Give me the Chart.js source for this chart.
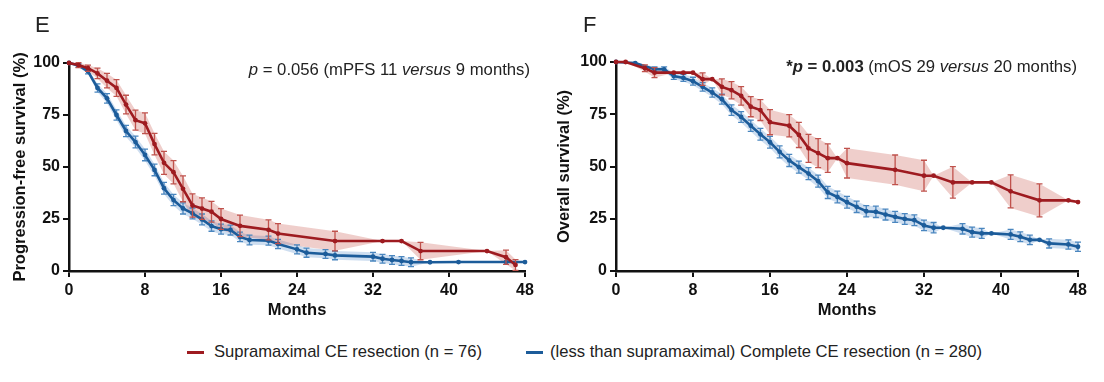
<html>
<head>
<script src="https://cdn.jsdelivr.net/npm/chart.js"></script>
<title>Kaplan-Meier PFS / OS</title>
<style>
  body { margin: 0; background: #fff; font-family: 'Liberation Sans', Arial, sans-serif; color: #222; }
  .panel { position: absolute; top: 0; height: 330px; }
  .letter { position: absolute; top: 12px; font-size: 22px; }
  .note { position: absolute; font-size: 16.7px; white-space: nowrap; }
  .dash { position: absolute; top: 351px; width: 17px; height: 3px; }
  .key { position: absolute; top: 342px; font-size: 16.6px; white-space: nowrap; }
</style>
</head>
<body>

<div class="panel" style="left:0; width:545px;"><canvas id="chart-e"></canvas></div>
<div class="panel" style="left:547px; width:557px;"><canvas id="chart-f"></canvas></div>

<div class="letter" style="left:35px;">E</div>
<div class="letter" style="left:583px;">F</div>

<div class="note" style="right:574px; top:60px;"><i>p</i> = 0.056 (mPFS 11 <i>versus</i> 9 months)</div>
<div class="note" style="right:27px; top:57px;"><b>*<i>p</i> = 0.003</b> (mOS 29 <i>versus</i> 20 months)</div>

<div class="dash" style="left:187px; background:#9e1b20;"></div>
<div class="key" style="left:214px;">Supramaximal CE resection (n = 76)</div>
<div class="dash" style="left:526px; background:#1c5c9a;"></div>
<div class="key" style="left:550px;">(less than supramaximal) Complete CE resection (n = 280)</div>

<script>
  // Panel E - progression-free survival
  const pfsSupraMonths = [0,1,2,3,4,5,6,7,8,9,10,11,12,13,14,15,16,18,21,22,28,33,35,37,44,46,47];
  const pfsSupraSurv   = [100,99,97.5,95,91.5,88,80,72.5,71,61,52,47.5,39.5,31.5,30,28.5,25,21.7,19.8,18,14.4,14.4,14.4,9.6,9.6,6.6,2.9];
  const pfsSupraErr    = [0,1.2,1.5,2.5,3.5,4,4.5,4.8,5,5.2,5.5,5.6,6.2,5.6,5.2,5,5,5.2,4.8,4.8,4.7,0,0,4.2,0,3.4,2.6];

  const pfsCompMonths = [0,1,2,3,4,5,6,7,8,9,10,11,12,13,14,15,16,17,18,19,21,22,24,25,27,28,32,33,34,35,36,38,41,46,48];
  const pfsCompSurv   = [100,98.8,96,88,83,75,67.3,62,55.8,48.6,39.8,34.1,30.1,27.7,24.8,21.6,20.1,19.7,16.4,14.9,14.6,13,10.4,8.8,8.2,7.5,6.9,5.9,5.3,4.8,4.2,4.2,4.3,4.3,4.3];
  const pfsCompErr    = [0,0.8,1.2,2,2.3,2.5,2.7,2.8,2.8,2.8,2.8,2.7,2.7,2.6,2.6,2.5,2.4,2.4,2.3,2.3,2.2,2.2,2.2,2.2,2.1,2.1,2.1,2.1,2.1,2.1,2.1,0,0,0,0];

  // Panel F - overall survival
  const osSupraMonths = [0,1,3,4,6,7,8,9,10,11,12,13,14,15,16,18,19,20,21,22,23,24,29,32,33,35,37,39,41,44,47,48];
  const osSupraSurv   = [100,100,97,94.9,94.9,94.9,94.9,91.8,91.8,88.1,86.5,83.8,78.6,77,71.2,69.5,65.1,58.7,56.4,54,54,51.6,48.4,45.6,45.6,42.4,42.4,42.4,38.1,33.8,33.8,33];
  const osSupraErr    = [0,0,1.6,2.4,0,0,0,3,0,3.8,4.1,4.4,4.8,5,6,5.3,6,6.7,6.9,6.8,0,7.1,7.1,7.4,0,7.5,0,0,7.9,7.9,0,0];

  const osCompMonths = [0,2,4,5,6,7,8,9,10,11,12,13,14,15,16,17,18,19,20,21,22,23,24,25,26,27,28,29,30,31,32,33,34,36,37,38,39,41,42,43,44,45,47,48];
  const osCompSurv   = [100,99.5,96.5,96.5,93.3,92.4,90.8,88.1,85.4,82.2,77,73.7,69.5,65.4,61.6,57,52.9,49.7,46.6,43,37.6,35.4,32.9,30.7,28.6,28.3,27,25.9,24.9,24.3,21.8,20.7,20.7,20.2,18.6,18,18,17.5,16.4,14.9,14.9,13.2,12.7,11.6];
  const osCompErr    = [0,0,1.2,1.2,1.6,1.7,1.9,2,2.2,2.4,2.5,2.6,2.7,2.8,2.8,2.9,2.9,2.9,2.9,2.9,2.9,2.8,2.8,2.7,2.7,2.7,2.6,2.6,2.6,2.6,2.5,2.5,0,2.5,2.4,2.4,0,2.4,2.3,2.3,0,2.2,2.2,2.2];

  const RED = '#9e1b20', RED_BAR = '#c0524c', RED_BAND = 'rgba(196,80,70,0.28)';
  const BLUE = '#1c5c9a', BLUE_BAR = '#4a86bf', BLUE_BAND = 'rgba(80,135,200,0.28)';

  function pts(m, v, e, sign) {
    return m.map((x, i) => ({ x: x, y: v[i] + sign * (e ? e[i] : 0) }));
  }

  // draws each curve's error bars just before its line, so they sit over the band
  const errorBars = {
    id: 'errorBars',
    beforeDatasetDraw(chart, args) {
      const ds = chart.data.datasets[args.index];
      if (!ds.errs) return;
      const ctx = chart.ctx, xs = chart.scales.x, ys = chart.scales.y;
      ctx.save();
      ctx.strokeStyle = ds.errColor;
      ctx.lineWidth = 1.3;
      ds.data.forEach((p, i) => {
        const e = ds.errs[i];
        if (!e) return;
        const px = xs.getPixelForValue(p.x);
        const t = ys.getPixelForValue(p.y + e), b = ys.getPixelForValue(p.y - e);
        ctx.beginPath();
        ctx.moveTo(px, t); ctx.lineTo(px, b);
        ctx.moveTo(px - 3, t); ctx.lineTo(px + 3, t);
        ctx.moveTo(px - 3, b); ctx.lineTo(px + 3, b);
        ctx.stroke();
      });
      ctx.restore();
    }
  };

  function lineSet(m, v, e, color, barColor) {
    return {
      data: pts(m, v, null, 0), errs: e, errColor: barColor,
      borderColor: color, backgroundColor: color, borderWidth: 2.6,
      pointRadius: 2.4, pointBorderWidth: 0, tension: 0, fill: false, clip: false
    };
  }
  function bandSet(m, v, e, color, upper) {
    return {
      data: pts(m, v, e, upper ? 1 : -1),
      borderWidth: 0, borderColor: 'rgba(0,0,0,0)', pointRadius: 0,
      backgroundColor: color, fill: upper ? '+1' : false, tension: 0
    };
  }

  function makeChart(id, supra, comp, yTitle, padTop, padRight, yTitlePad) {
    const font = { family: "'Liberation Sans', Arial, sans-serif", size: 16, weight: 'bold' };
    const titleFont = { family: "'Liberation Sans', Arial, sans-serif", size: 16.5, weight: 'bold' };
    return new Chart(document.getElementById(id), {
      type: 'line',
      data: {
        datasets: [
          lineSet(supra[0], supra[1], supra[2], RED, RED_BAR),
          lineSet(comp[0], comp[1], comp[2], BLUE, BLUE_BAR),
          bandSet(supra[0], supra[1], supra[2], RED_BAND, true),
          bandSet(supra[0], supra[1], supra[2], RED_BAND, false),
          bandSet(comp[0], comp[1], comp[2], BLUE_BAND, true),
          bandSet(comp[0], comp[1], comp[2], BLUE_BAND, false)
        ]
      },
      options: {
        responsive: true,
        maintainAspectRatio: false,
        animation: false,
        layout: { padding: { top: padTop, right: padRight, left: 0, bottom: 0 } },
        plugins: { legend: { display: false }, tooltip: { enabled: false } },
        scales: {
          x: {
            type: 'linear', min: 0, max: 48,
            ticks: { stepSize: 8, font: font, color: '#111', padding: 4, maxRotation: 0 },
            grid: { drawOnChartArea: false, drawTicks: true, tickLength: 6, color: '#111', lineWidth: 2 },
            border: { color: '#111', width: 2.5 },
            title: { display: true, text: 'Months', font: titleFont, color: '#111', padding: { top: 0, bottom: 10 } },
            afterFit: s => { s.height = 59; }
          },
          y: {
            min: 0, max: 100,
            ticks: { stepSize: 25, font: font, color: '#111', padding: 3 },
            grid: { drawOnChartArea: false, drawTicks: true, tickLength: 6, color: '#111', lineWidth: 2 },
            border: { color: '#111', width: 2.5 },
            title: { display: true, text: yTitle, font: titleFont, color: '#111', padding: { top: yTitlePad, bottom: 0 } },
            afterFit: s => { s.width = 69; }
          }
        }
      },
      plugins: [errorBars]
    });
  }

  makeChart('chart-e',
    [pfsSupraMonths, pfsSupraSurv, pfsSupraErr],
    [pfsCompMonths, pfsCompSurv, pfsCompErr],
    'Progression-free survival (%)', 63, 20, 11);

  makeChart('chart-f',
    [osSupraMonths, osSupraSurv, osSupraErr],
    [osCompMonths, osCompSurv, osCompErr],
    'Overall survival (%)', 62, 26, 8);
</script>
</body>
</html>
